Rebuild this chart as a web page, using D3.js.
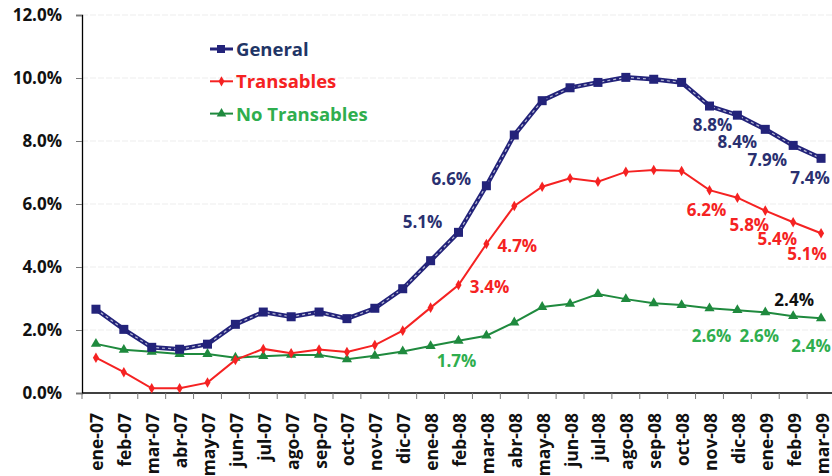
<!DOCTYPE html>
<html>
<head>
<meta charset="utf-8">
<script src="https://cdn.jsdelivr.net/npm/d3@7/dist/d3.min.js"></script>
<style>
  html, body { margin: 0; padding: 0; background: #fff; }
  svg { display: block; font-family: "Open Sans", Lato, sans-serif; }
</style>
</head>
<body>
<div id="chart"></div>
<script>
// Months (x categories)
const months = ['ene-07','feb-07','mar-07','abr-07','may-07','jun-07','jul-07','ago-07','sep-07','oct-07','nov-07','dic-07',
                'ene-08','feb-08','mar-08','abr-08','may-08','jun-08','jul-08','ago-08','sep-08','oct-08','nov-08','dic-08',
                'ene-09','feb-09','mar-09'];

// Series values (%)
const general = [2.66, 2.02, 1.45, 1.39, 1.55, 2.18, 2.57, 2.42, 2.57, 2.36, 2.69, 3.31,
                 4.20, 5.10, 6.58, 8.19, 9.28, 9.69, 9.86, 10.02, 9.96, 9.86, 9.11, 8.82,
                 8.37, 7.86, 7.45];
const transables = [1.12, 0.66, 0.15, 0.15, 0.33, 1.05, 1.40, 1.26, 1.38, 1.30, 1.52, 1.98,
                    2.71, 3.43, 4.73, 5.94, 6.55, 6.82, 6.71, 7.02, 7.08, 7.05, 6.44, 6.20,
                    5.79, 5.42, 5.07];
const noTransables = [1.56, 1.37, 1.31, 1.24, 1.24, 1.12, 1.17, 1.21, 1.21, 1.07, 1.18, 1.32,
                      1.49, 1.66, 1.82, 2.24, 2.73, 2.83, 3.14, 2.98, 2.85, 2.79, 2.69, 2.63,
                      2.56, 2.44, 2.37];

const yTicks = [0, 2, 4, 6, 8, 10, 12];

// Data labels: month index, value it is anchored to, text
const generalLabels = [
    { i: 13, v: 5.10, text: '5.1%' },
    { i: 14, v: 6.58, text: '6.6%' },
    { i: 22, v: 9.11, text: '8.8%' },
    { i: 23, v: 8.82, text: '8.4%' },
    { i: 24, v: 8.37, text: '7.9%' },
    { i: 26, v: 7.45, text: '7.4%' }
];
const transLabels = [
    { i: 13, v: 3.43, text: '3.4%' },
    { i: 14, v: 4.73, text: '4.7%' },
    { i: 22, v: 6.44, text: '6.2%' },
    { i: 23, v: 6.20, text: '5.8%' },
    { i: 24, v: 5.79, text: '5.4%' },
    { i: 26, v: 5.07, text: '5.1%' }
];
const noTransLabels = [
    { i: 13, v: 1.66, text: '1.7%' },
    { i: 22, v: 2.69, text: '2.6%' },
    { i: 24, v: 2.56, text: '2.6%' },
    { i: 26, v: 2.37, text: '2.4%' }
];
const extraLabel = { i: 25, v: 2.44, text: '2.4%' };

const W = 832, H = 476;
const margin = { left: 82, right: 835, top: 15, bottom: 393 };

const svg = d3.select('#chart').append('svg')
    .attr('width', W)
    .attr('height', H);

const x = d3.scaleBand()
    .domain(months)
    .range([margin.left, margin.right])
    .padding(0);

const y = d3.scaleLinear()
    .domain([0, 12])
    .range([margin.bottom, margin.top]);

const cx = i => x(months[i]) + x.bandwidth() / 2;

// Colours
const navy = '#23237a';
const red = '#f52222';
const green = '#1f8a3e';
const greenText = '#2fae4e';

// Grid lines
svg.append('g')
    .selectAll('line')
    .data(yTicks.filter(d => d > 0))
    .join('line')
    .attr('x1', margin.left)
    .attr('x2', margin.right)
    .attr('y1', d => y(d))
    .attr('y2', d => y(d))
    .attr('stroke', '#ededed')
    .attr('stroke-width', 1)
    .attr('stroke-dasharray', '6,2');

// Y axis
const yAxis = svg.append('g')
    .attr('transform', `translate(${margin.left},0)`)
    .call(d3.axisLeft(y).tickValues(yTicks).tickSize(6).tickPadding(14)
        .tickFormat(d => d.toFixed(1) + '%'));
yAxis.select('.domain').attr('stroke', '#000').attr('stroke-width', 1.3);
yAxis.selectAll('.tick line').attr('stroke', '#777');
yAxis.selectAll('.tick text')
    .attr('fill', '#111')
    .style('font-size', '17px')
    .style('font-weight', '700')
    .style('font-family', '"Open Sans", sans-serif');

// X axis (ticks at band boundaries)
const xAxis = svg.append('g')
    .attr('transform', `translate(0,${margin.bottom})`);
xAxis.append('line')
    .attr('x1', margin.left)
    .attr('x2', margin.right)
    .attr('stroke', '#000')
    .attr('stroke-width', 1.3);
xAxis.selectAll('.xtick')
    .data(months)
    .join('line')
    .attr('class', 'xtick')
    .attr('x1', d => x(d))
    .attr('x2', d => x(d))
    .attr('y1', 0)
    .attr('y2', 6)
    .attr('stroke', '#777');
xAxis.selectAll('.xlabel')
    .data(months)
    .join('text')
    .attr('class', 'xlabel')
    .attr('transform', d => `translate(${x(d) + x.bandwidth() / 2 + 7.5},${20}) rotate(-90)`)
    .attr('text-anchor', 'end')
    .attr('fill', '#111')
    .style('font-size', '17.5px')
    .style('font-weight', '700')
    .text(d => d);

// Lines
const line = d3.line()
    .x((d, i) => cx(i))
    .y(d => y(d));

// No Transables
svg.append('path')
    .datum(noTransables)
    .attr('fill', 'none')
    .attr('stroke', green)
    .attr('stroke-width', 2)
    .attr('d', line);
svg.append('g')
    .selectAll('path')
    .data(noTransables)
    .join('path')
    .attr('transform', (d, i) => `translate(${cx(i)},${y(d)})`)
    .attr('d', d3.symbol(d3.symbolTriangle, 45))
    .attr('fill', green);

// Transables
svg.append('path')
    .datum(transables)
    .attr('fill', 'none')
    .attr('stroke', red)
    .attr('stroke-width', 2)
    .attr('d', line);
svg.append('g')
    .selectAll('path')
    .data(transables)
    .join('path')
    .attr('transform', (d, i) => `translate(${cx(i)},${y(d)})`)
    .attr('d', d3.symbol(d3.symbolDiamond, 32))
    .attr('fill', red);

// General
svg.append('path')
    .datum(general)
    .attr('fill', 'none')
    .attr('stroke', navy)
    .attr('stroke-width', 4.5)
    .attr('d', line);
svg.append('path')
    .datum(general)
    .attr('fill', 'none')
    .attr('stroke', '#b9bcd6')
    .attr('stroke-width', 1.2)
    .attr('stroke-dasharray', '3,3')
    .attr('d', line);
svg.append('g')
    .selectAll('rect')
    .data(general)
    .join('rect')
    .attr('x', (d, i) => cx(i) - 4.5)
    .attr('y', d => y(d) - 4.5)
    .attr('width', 9)
    .attr('height', 9)
    .attr('fill', navy);

// Data labels
function addLabels(labels, color, dx, dy) {
    svg.append('g')
        .selectAll('text')
        .data(labels)
        .join('text')
        .attr('x', (d, k) => cx(d.i) + (Array.isArray(dx) ? dx[k] : dx))
        .attr('y', (d, k) => y(d.v) + (Array.isArray(dy) ? dy[k] : dy))
        .attr('text-anchor', 'middle')
        .attr('fill', color)
        .style('font-size', '17px')
        .style('font-weight', '700')
        .text(d => d.text);
}

addLabels(generalLabels, '#2a3070', [-36, -35, 3, 0, 2, -11], [-4, -1, 25, 33, 37, 26]);
addLabels(transLabels, red, [31, 31, -3, 12, 12, -14], [8, 8, 26, 33, 34, 27]);
addLabels(noTransLabels, greenText, [-2, 2, -6, -10], [26, 34, 30, 34]);
addLabels([extraLabel], '#111', 1, -10);

// Legend
const legendItems = [
    { label: 'General', color: navy, text: '#1f3566', symbol: 'square' },
    { label: 'Transables', color: red, text: red, symbol: 'diamond' },
    { label: 'No Transables', color: green, text: greenText, symbol: 'triangle' }
];

const legend = svg.append('g')
    .attr('transform', 'translate(210,49)');

legendItems.forEach((item, i) => {
    const g = legend.append('g')
        .attr('transform', `translate(0,${i * 32.3})`);
    g.append('line')
        .attr('x1', 0)
        .attr('x2', 23)
        .attr('stroke', item.color)
        .attr('stroke-width', item.symbol === 'square' ? 3 : 2);
    if (item.symbol === 'square') {
        g.append('rect')
            .attr('x', 7)
            .attr('y', -4)
            .attr('width', 8)
            .attr('height', 8)
            .attr('fill', item.color);
    } else {
        g.append('path')
            .attr('transform', 'translate(11.5,0)')
            .attr('d', d3.symbol(item.symbol === 'diamond' ? d3.symbolDiamond : d3.symbolTriangle,
                item.symbol === 'diamond' ? 30 : 40))
            .attr('fill', item.color);
    }
    g.append('text')
        .attr('x', 26)
        .attr('y', 7)
        .attr('fill', item.text)
        .style('font-size', '18.5px')
        .style('font-weight', '700')
        .text(item.label);
});
</script>
</body>
</html>
